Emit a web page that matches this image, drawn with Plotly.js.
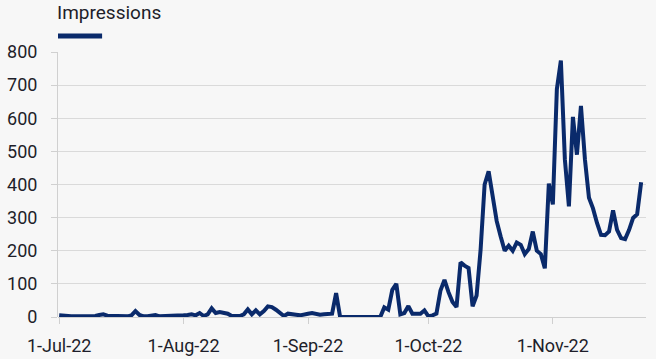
<!DOCTYPE html>
<html>
<head>
<meta charset="utf-8">
<script src="https://cdn.plot.ly/plotly-3.0.1.min.js"></script>
<style>
html,body{margin:0;padding:0;background:#f7f7f7;}
#chart{width:656px;height:359px;}
</style>
</head>
<body>
<div id="chart"></div>
<script>
// Daily impressions, 1-Jul-22 .. 23-Nov-22
const startDate = '2022-07-01';
const impressions = [
  5, 3, 2, 2, 2, 2, 2, 2, 2, 3,
  6, 8, 4, 3, 3, 2, 2, 2, 5, 18,
  6, 2, 2, 3, 6, 2, 2, 2, 3, 4,
  3, 5, 6, 8, 5, 12, 3, 8, 26, 12,
  15, 14, 10, 3, 2, 3, 8, 23, 8, 20,
  8, 18, 32, 30, 22, 12, 3, 10, 7, 7,
  5, 6, 10, 12, 8, 7, 8, 8, 10, 72,
  0, 0, 0, 0, 0, 0, 0, 0, 0, 0,
  0, 29, 22, 82, 100, 8, 12, 33, 10, 10,
  10, 20, 2, 5, 10, 80, 112, 75, 45, 30,
  165, 155, 148, 32, 65, 203, 400, 440, 360, 290,
  243, 200, 215, 200, 225, 218, 190, 205, 258, 200,
  190, 147, 403, 340, 688, 774, 475, 334, 604, 490,
  637, 475, 360, 328, 284, 248, 247, 258, 322, 263,
  238, 235, 263, 299, 310, 407
];
const seriesName = 'Impressions';
const yTicks = [0, 100, 200, 300, 400, 500, 600, 700, 800];

function buildDates(start, n) {
  const out = [];
  const d0 = new Date(start + 'T00:00:00Z');
  for (let i = 0; i < n; i++) {
    const d = new Date(d0.getTime() + i * 86400000);
    out.push(d.toISOString().slice(0, 10));
  }
  return out;
}
const dates = buildDates(startDate, impressions.length);

const navy = '#0a2a6b';
const textColor = '#1e1e2a';
const trace = {
  x: dates,
  y: impressions,
  type: 'scatter',
  mode: 'lines',
  name: seriesName,
  line: {color: navy, width: 4},
  hoverinfo: 'x+y'
};

const layout = {
  width: 656,
  height: 359,
  paper_bgcolor: '#f7f7f7',
  plot_bgcolor: '#f7f7f7',
  margin: {l: 58, r: 10, t: 52, b: 42},
  showlegend: false,
  font: {family: 'Roboto, "Noto Sans", sans-serif', size: 18, color: textColor},
  xaxis: {
    type: 'date',
    range: ['2022-06-30 17:00', '2022-11-24 05:00'],
    tick0: '2022-07-01',
    dtick: 'M1',
    tickformat: '%-d-%b-%y',
    showgrid: false,
    showline: false,
    zeroline: false,
    ticks: 'outside',
    ticklen: 6,
    tickcolor: '#d0d0d0',
    tickwidth: 1,
    ticklabelstandoff: 6,
    tickfont: {size: 18, color: textColor}
  },
  yaxis: {
    range: [0, 800],
    tickvals: yTicks,
    showgrid: true,
    gridcolor: '#dadada',
    gridwidth: 1,
    zeroline: true,
    zerolinecolor: '#d0d0d0',
    zerolinewidth: 1,
    showline: true,
    linecolor: '#d0d0d0',
    linewidth: 1,
    ticks: 'outside',
    ticklen: 6,
    tickcolor: '#d0d0d0',
    ticklabelstandoff: 10,
    tickfont: {size: 18, color: textColor}
  },
  annotations: [{
    xref: 'paper', yref: 'paper',
    x: 0, y: 1, xanchor: 'left', yanchor: 'bottom',
    xshift: -3,
    yshift: 26,
    text: seriesName,
    showarrow: false,
    font: {size: 19, color: textColor}
  }],
  shapes: [{
    type: 'line', xref: 'paper', yref: 'paper',
    x0: 0, x1: 0.075,
    ysizemode: 'pixel', yanchor: 1, y0: 16, y1: 16,
    line: {color: navy, width: 5}
  }]
};

Plotly.newPlot('chart', [trace], layout, {displayModeBar: false, staticPlot: true});
</script>
</body>
</html>
